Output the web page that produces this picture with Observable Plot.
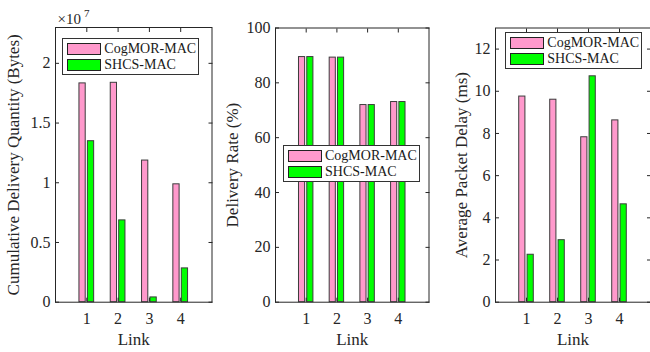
<!DOCTYPE html>
<html>
<head>
<meta charset="utf-8">
<script src="https://cdn.jsdelivr.net/npm/d3@7"></script>
<script src="https://cdn.jsdelivr.net/npm/@observablehq/plot@0.6"></script>
<style>
  body { margin: 0; background: #fff; }
  #wrap { position: relative; width: 650px; height: 352px; overflow: hidden; font-family: "Liberation Serif", "Times New Roman", serif; }
  #wrap svg { position: absolute; left: 0; top: 0; }
  .legend { position: absolute; background: #fff; border: 1px solid #333; box-sizing: border-box; width: 137px; height: 37px; }
  .row { position: absolute; left: 4px; height: 12px; display: flex; align-items: center; }
  .sw { width: 34px; height: 12px; border: 1px solid #222; box-sizing: border-box; }
  .lab { margin-left: 3px; font-size: 14px; line-height: 12px; color: #1a1a1a; white-space: nowrap; }
</style>
</head>
<body>
<div id="wrap"></div>
<script>
// ---- data ----
const links = [1, 2, 3, 4];
const seriesNames = ["CogMOR-MAC", "SHCS-MAC"];
const seriesColors = ["#FF99CC", "#00FF00"];

const cumulativeCog = [1.832e7, 1.837e7, 1.186e7, 0.987e7];
const cumulativeShcs = [1.348e7, 0.685e7, 0.040e7, 0.283e7];
const cumulativeTicks = [0, 0.5e7, 1e7, 1.5e7, 2e7];

const rateCog = [89.4, 89.2, 71.9, 73.0];
const rateShcs = [89.4, 89.2, 71.9, 73.0];
const rateTicks = [0, 20, 40, 60, 80, 100];

const delayCog = [9.75, 9.60, 7.82, 8.62];
const delayShcs = [2.25, 2.94, 10.71, 4.64];
const delayTicks = [0, 2, 4, 6, 8, 10, 12];

const yLabels = ["Cumulative Delivery Quantity (Bytes)", "Delivery Rate (%)", "Average Packet Delay (ms)"];
const xLabel = "Link";
const exponentBase = "\u00d710";
const exponent = "7";

// ---- drawing ----
const W = 650, H = 352;
const FONT = "Liberation Serif, Times New Roman, serif";
const INK = "#262626";

function panel(o) {
  const rows = [];
  links.forEach((l, i) => {
    rows.push({link: l, s: 0, v: o.a[i]});
    rows.push({link: l, s: 1, v: o.b[i]});
  });
  const marks = [
    Plot.rectY(rows, {
      x1: d => d.link + (d.s ? 0.035 : -0.235),
      x2: d => d.link + (d.s ? 0.235 : -0.035),
      y1: 0, y2: "v",
      fill: d => seriesNames[d.s],
      stroke: "#3c3c3c", strokeWidth: 1
    }),
    Plot.frame({stroke: INK, strokeWidth: 1}),
    Plot.axisX(links, {anchor: "bottom", tickSize: -4, tickPadding: 14, fontSize: 16, label: null, stroke: INK, fill: INK, tickFormat: d => String(d)}),
    Plot.axisX(links, {anchor: "top", tickSize: -4, label: null, stroke: INK, tickFormat: () => ""}),
    Plot.axisY(o.ticks, {anchor: "left", tickSize: -4, tickPadding: 9, fontSize: 16, label: null, stroke: INK, fill: INK, tickFormat: o.fmt}),
    Plot.axisY(o.ticks, {anchor: "right", tickSize: -4, label: null, stroke: INK, tickFormat: () => ""}),
    Plot.text([o.ylabel], {frameAnchor: "left", textAnchor: "middle", lineAnchor: "middle", rotate: -90, dx: o.labelDx, fontSize: 17, fill: INK}),
    Plot.text([xLabel], {frameAnchor: "bottom", textAnchor: "middle", lineAnchor: "bottom", dy: 43, fontSize: 17, fill: INK})
  ];
  if (o.exp) {
    marks.push(Plot.text([exponentBase], {frameAnchor: "top-left", textAnchor: "start", lineAnchor: "bottom", dx: 2, dy: -4, fontSize: 15, fill: INK}));
    marks.push(Plot.text([exponent], {frameAnchor: "top-left", textAnchor: "start", lineAnchor: "bottom", dx: 28.5, dy: -11, fontSize: 11, fill: INK}));
  }
  return Plot.plot({
    width: W, height: H,
    marginLeft: o.left, marginRight: W - o.right, marginTop: o.top, marginBottom: H - o.bottom,
    style: {fontFamily: FONT, fontSize: "15px", color: INK, background: "transparent", overflow: "visible"},
    x: {domain: [0, 5]},
    y: {domain: o.domain},
    color: {domain: seriesNames, range: seriesColors},
    marks
  });
}

const wrap = document.getElementById("wrap");
wrap.appendChild(panel({left: 55, right: 211.5, top: 27, bottom: 301.7, domain: [0, 2.3e7], ticks: cumulativeTicks, fmt: d => String(d / 1e7), a: cumulativeCog, b: cumulativeShcs, ylabel: yLabels[0], labelDx: -42, exp: true}));
wrap.appendChild(panel({left: 275, right: 428.5, top: 27.5, bottom: 301.7, domain: [0, 100], ticks: rateTicks, fmt: d => String(d), a: rateCog, b: rateShcs, ylabel: yLabels[1], labelDx: -43}));
wrap.appendChild(panel({left: 495, right: 650, top: 27.5, bottom: 301.7, domain: [0, 13], ticks: delayTicks, fmt: d => String(d), a: delayCog, b: delayShcs, ylabel: yLabels[2], labelDx: -34}));

// legends (HTML, built from the series arrays)
const legendPos = [[62.3, 37.5], [283, 144.7], [505.3, 32]];
legendPos.forEach(([lx, ly]) => {
  const box = document.createElement("div");
  box.className = "legend";
  box.style.left = lx + "px";
  box.style.top = ly + "px";
  seriesNames.forEach((name, i) => {
    const row = document.createElement("div");
    row.className = "row";
    row.style.top = (4 + i * 16) + "px";
    const sw = document.createElement("div");
    sw.className = "sw";
    sw.style.background = seriesColors[i];
    const lab = document.createElement("span");
    lab.className = "lab";
    lab.textContent = name;
    row.appendChild(sw);
    row.appendChild(lab);
    box.appendChild(row);
  });
  wrap.appendChild(box);
});
</script>
</body>
</html>
